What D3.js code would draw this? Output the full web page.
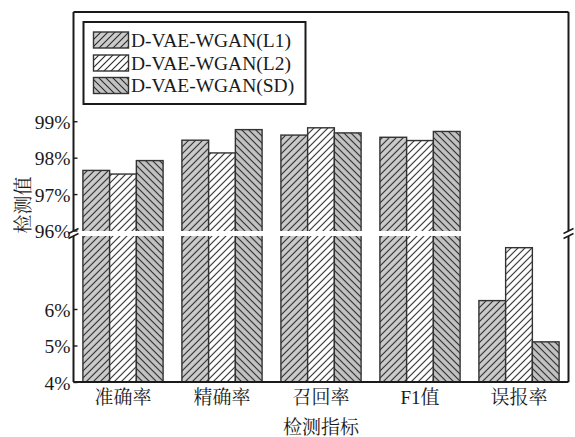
<!DOCTYPE html>
<html>
<head>
<meta charset="utf-8">
<script src="https://cdn.jsdelivr.net/npm/d3@7/dist/d3.min.js"></script>
<style>
  html, body { margin: 0; padding: 0; background: #fff; }
  svg text { font-family: "Liberation Serif", "Noto Serif CJK SC", "Noto Sans CJK SC", serif; fill: #1a1a1a; }
</style>
</head>
<body>
<svg id="chart" width="575" height="437"></svg>
<script>
// Detection metrics for three model variants
const categories = ["准确率", "精确率", "召回率", "F1值", "误报率"];
const seriesNames = ["D-VAE-WGAN(L1)", "D-VAE-WGAN(L2)", "D-VAE-WGAN(SD)"];
const valuesL1 = [97.65, 98.48, 98.62, 98.56, 6.23];
const valuesL2 = [97.55, 98.13, 98.82, 98.47, 7.68];
const valuesSD = [97.92, 98.77, 98.68, 98.72, 5.10];
const upperTicks = [96, 97, 98, 99];
const lowerTicks = [4, 5, 6];
const xTitle = "检测指标";
const yTitle = "检测值";

const series = [valuesL1, valuesL2, valuesSD];

const svg = d3.select("#chart");
const plotLeft = 73.5, plotRight = 568.5, plotTop = 12, plotBottom = 382;
const breakTop = 231, breakBottom = 236;

// Broken y axis: an upper segment for the high scores, a lower one for the false-alarm rate
const yUpper = d3.scaleLinear().domain([96, 102]).range([230.5, plotTop]);
const yLower = d3.scaleLinear().domain([4, 8]).range([plotBottom, breakBottom]);
const yPos = v => v >= 96 ? yUpper(v) : yLower(v);

const x0 = d3.scaleBand().domain(categories).range([plotLeft, plotRight])
  .paddingInner(0.19).paddingOuter(0.095);
const x1 = d3.scaleBand().domain(d3.range(series.length)).range([0, x0.bandwidth()]).padding(0);

// Hatch patterns
const defs = svg.append("defs");
const styles = [
  { id: "hatchL1", bg: "#cbcbcb", dir: "fwd" },
  { id: "hatchL2", bg: "#ffffff", dir: "fwd" },
  { id: "hatchSD", bg: "#c2c2c2", dir: "back" }
];
const s = 7;
styles.forEach(st => {
  const p = defs.append("pattern").attr("id", st.id)
    .attr("patternUnits", "userSpaceOnUse").attr("width", s).attr("height", s);
  p.append("rect").attr("width", s).attr("height", s).attr("fill", st.bg);
  const d = st.dir === "fwd"
    ? `M0,${s} L${s},0 M${-s/4},${s/4} L${s/4},${-s/4} M${s*3/4},${s*5/4} L${s*5/4},${s*3/4}`
    : `M0,0 L${s},${s} M${-s/4},${s*3/4} L${s/4},${s*5/4} M${s*3/4},${-s/4} L${s*5/4},${s/4}`;
  p.append("path").attr("d", d).attr("stroke", "#2a2a2a").attr("stroke-width", 1.1).attr("fill", "none");
});

// Bars
const groups = svg.append("g").selectAll("g").data(categories).join("g")
  .attr("transform", c => `translate(${x0(c)},0)`);
groups.selectAll("rect")
  .data((c, i) => series.map((vals, k) => ({ k, v: vals[i] })))
  .join("rect")
  .attr("x", d => x1(d.k))
  .attr("y", d => yPos(d.v))
  .attr("width", x1.bandwidth())
  .attr("height", d => plotBottom - yPos(d.v))
  .attr("fill", d => `url(#${styles[d.k].id})`)
  .attr("stroke", "#333")
  .attr("stroke-width", 1.4);

// White gap for the axis break
svg.append("rect").attr("x", plotLeft - 6).attr("y", breakTop)
  .attr("width", plotRight - plotLeft + 14).attr("height", breakBottom - breakTop)
  .attr("fill", "#fff");

// Frame
const frame = svg.append("g").attr("stroke", "#1a1a1a").attr("stroke-width", 2).attr("fill", "none");
frame.append("line").attr("x1", plotLeft).attr("x2", plotRight).attr("y1", plotTop).attr("y2", plotTop);
frame.append("line").attr("x1", plotLeft).attr("x2", plotRight).attr("y1", plotBottom).attr("y2", plotBottom);
frame.append("line").attr("x1", plotLeft).attr("x2", plotLeft).attr("y1", plotTop).attr("y2", breakTop);
frame.append("line").attr("x1", plotLeft).attr("x2", plotLeft).attr("y1", breakBottom).attr("y2", plotBottom);
frame.append("line").attr("x1", plotRight).attr("x2", plotRight).attr("y1", plotTop).attr("y2", breakTop);
frame.append("line").attr("x1", plotRight).attr("x2", plotRight).attr("y1", breakBottom).attr("y2", plotBottom);

// Break marks
const marks = svg.append("g").attr("stroke", "#1a1a1a").attr("stroke-width", 1.4);
[plotLeft, plotRight].forEach(xx => {
  [breakTop, breakBottom].forEach(yy => {
    marks.append("line").attr("x1", xx - 5).attr("y1", yy + 2.5).attr("x2", xx + 5).attr("y2", yy - 2.5);
  });
});

// Y axes (ticks point inward)
const fmt = d => d + "%";
function drawAxis(scale, ticks) {
  const g = svg.append("g").attr("transform", `translate(${plotLeft},0)`)
    .call(d3.axisRight(scale).tickValues(ticks).tickSize(4).tickFormat(fmt));
  g.select(".domain").remove();
  g.selectAll(".tick line").attr("stroke", "#1a1a1a").attr("stroke-width", 1.4);
  g.selectAll(".tick text").attr("x", -3).attr("text-anchor", "end")
    .attr("dy", "0.36em").style("font-size", "19.5px");
  g.attr("font-family", null).attr("font-size", null);
}
drawAxis(yUpper, upperTicks);
drawAxis(yLower, lowerTicks);

// X axis labels
const xa = svg.append("g").attr("transform", `translate(0,${plotBottom})`)
  .call(d3.axisBottom(x0).tickSize(0).tickPadding(0));
xa.select(".domain").remove();
xa.selectAll(".tick text").attr("dy", null).attr("y", 22).style("font-size", "19px");
xa.attr("font-family", null).attr("font-size", null);

// Axis titles
svg.append("text").attr("x", (plotLeft + plotRight) / 2).attr("y", 434)
  .attr("text-anchor", "middle").style("font-size", "19px").text(xTitle);
svg.append("text").attr("transform", "translate(30,205) rotate(-90)")
  .attr("text-anchor", "middle").style("font-size", "19px").text(yTitle);

// Legend
const lg = svg.append("g");
lg.append("rect").attr("x", 83.5).attr("y", 22).attr("width", 222).attr("height", 82)
  .attr("fill", "#fff").attr("stroke", "#1a1a1a").attr("stroke-width", 2);
const rowY = [32, 55, 77.5];
seriesNames.forEach((name, k) => {
  lg.append("rect").attr("x", 93.5).attr("y", rowY[k]).attr("width", 35).attr("height", 16)
    .attr("fill", `url(#${styles[k].id})`).attr("stroke", "#333").attr("stroke-width", 1.4);
  lg.append("text").attr("x", 131).attr("y", rowY[k] + 8).attr("dy", "0.35em")
    .style("font-size", "19.5px").text(name);
});
</script>
</body>
</html>
